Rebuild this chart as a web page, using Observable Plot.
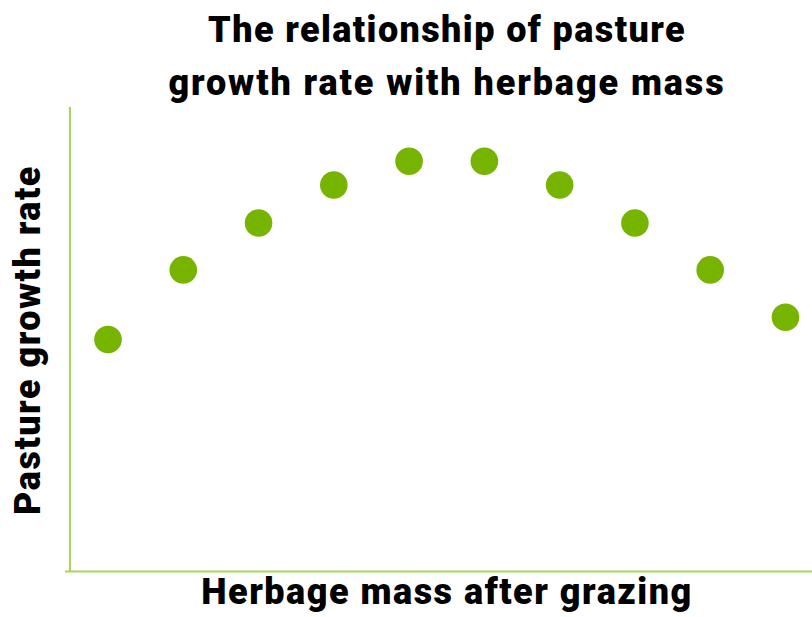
<!DOCTYPE html>
<html>
<head>
<meta charset="utf-8">
<script src="https://cdn.jsdelivr.net/npm/d3@7"></script>
<script src="https://cdn.jsdelivr.net/npm/@observablehq/plot@0.6"></script>
<style>
  html, body { margin: 0; padding: 0; background: #fff; overflow: hidden; }
  #wrap { position: relative; width: 812px; height: 617px; font-family: "Roboto", "Lato", sans-serif; font-weight: 900; color: #000; }
  #title { position: absolute; left: 0; top: 4px; width: 894px; text-align: center; font-size: 36px; line-height: 53px; letter-spacing: 1.4px; }
  #xlab { position: absolute; left: 0; top: 572px; width: 894px; text-align: center; font-size: 36px; line-height: 40px; letter-spacing: 1.5px; }
  #ylab { position: absolute; left: 28px; top: 340px; font-size: 36px; line-height: 40px; white-space: nowrap; transform: translate(-50%, -50%) rotate(-90deg); letter-spacing: 1.5px; }
  #plot { position: absolute; left: 0; top: 0; }
</style>
</head>
<body>
<div id="wrap">
  <div id="plot"></div>
  <div id="title">The relationship of pasture<br><span style="letter-spacing:1.9px">growth rate with herbage mass</span></div>
  <div id="ylab">Pasture growth rate</div>
  <div id="xlab">Herbage mass after grazing</div>
</div>
<script>
const herbageMass = [1, 2, 3, 4, 5, 6, 7, 8, 9, 10];
const growthRate = [50, 65, 75.1, 83.3, 88.4, 88.4, 83.3, 75.1, 65, 54.8];

const data = herbageMass.map((x, i) => ({x, y: growthRate[i]}));
const xMin = 0.4355, xMax = 10.359, yMin = 0, yMax = 100;

const chart = Plot.plot({
  width: 812,
  height: 617,
  marginTop: 107,
  marginBottom: 46,
  marginLeft: 65,
  marginRight: 0,
  x: {domain: [xMin, xMax], axis: null},
  y: {domain: [yMin, yMax], axis: null},
  marks: [
    Plot.ruleY([yMin], {x1: xMin, x2: xMax, stroke: "#a8d55f", strokeWidth: 2.2}),
    Plot.ruleX([0.495], {y1: yMin, y2: yMax, stroke: "#a8d55f", strokeWidth: 2.2}),
    Plot.dot(data, {x: "x", y: "y", r: 13.8, fill: "#77b400", stroke: "none"})
  ]
});
document.getElementById("plot").appendChild(chart);
</script>
</body>
</html>
